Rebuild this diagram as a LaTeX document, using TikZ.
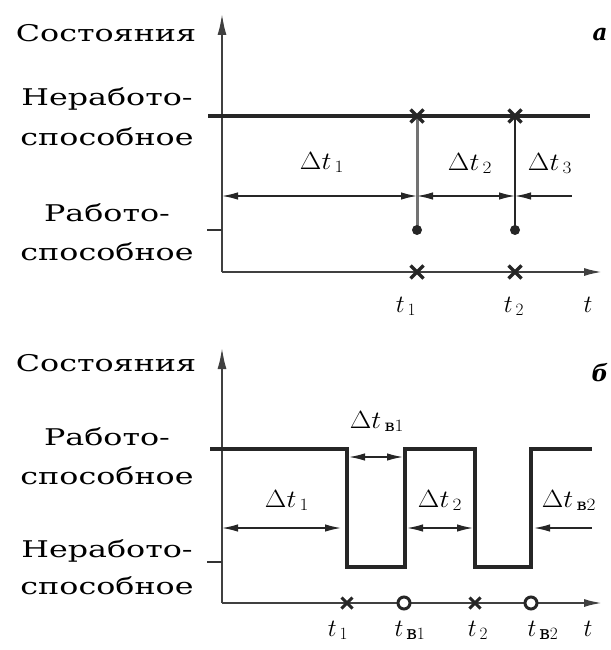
\documentclass[tikz,border=0pt]{standalone}
\usepackage{amsmath}
\usepackage[no-math]{fontspec}
\setmainfont{DejaVu Serif}
\usetikzlibrary{arrows.meta}
\newcommand\widetxt[1]{\scalebox{1.38}[1]{#1}}
\newcommand\widemath[1]{\scalebox{1.12}[1]{#1}}
\begin{document}
\begin{tikzpicture}[x=1pt,y=-1pt,
  txt/.style={font=\fontsize{23}{26}\selectfont, inner sep=0pt, anchor=base},
  mth/.style={font=\fontsize{23}{25}\selectfont, inner sep=0pt, anchor=base},
  tlab/.style={font=\fontsize{27}{29}\selectfont, inner sep=0pt, anchor=base},
  panel/.style={font=\fontsize{23}{25}\selectfont\bfseries\itshape, inner sep=0pt},
  axisline/.style={line width=2.5pt, draw=black!75},
  yarrow/.style={-{Latex[length=22pt,width=9pt]}},
  tarrow/.style={-{Latex[length=19pt,width=8pt]}},
  stateline/.style={line width=4pt, draw=black!85},
  signal/.style={line width=3.5pt, draw=black!85, line join=miter},
  tickline/.style={line width=2pt, draw=black!80},
  dimline/.style={line width=1.4pt, draw=black!85},
  dimarr/.style={{Latex[length=16pt,width=7.5pt]}-{Latex[length=16pt,width=7.5pt]}},
  dimleft/.style={{Latex[length=16pt,width=7.5pt]}-},
  crossline/.style={line width=3.5pt, draw=black!85},
  ringmark/.style={line width=3pt, draw=black!85, fill=white},
]
\useasboundingbox (0,0) rectangle (610,650);

% ===================== panel a =====================
\node[txt] (sa) at (106,42) {\widetxt{Состояния}};
\node[panel] (pa) at (600,35) {а};
\node[txt] (na1) at (107,106) {\widetxt{Неработо-}};
\node[txt] (na2) at (107,145) {\widetxt{способное}};
\node[txt] (ra1) at (107,221) {\widetxt{Работо-}};
\node[txt] (ra2) at (107,260) {\widetxt{способное}};

\coordinate (oa) at (222,272);
\coordinate (ya) at (222,13);
\coordinate (ta) at (603,272);
\draw[axisline,yarrow] (oa) -- (ya);
\draw[axisline,tarrow] (oa) -- (ta);

\coordinate (ua0) at (208,116);
\coordinate (ua1) at (590,116);
\draw[stateline] (ua0) -- (ua1);
\coordinate (la0) at (207,230);
\coordinate (la1) at (222,230);
\draw[tickline] (la0) -- (la1);

\coordinate (f1top) at (417,116);
\coordinate (f1dot) at (417,230);
\coordinate (f2top) at (515,116);
\coordinate (f2dot) at (515,230);
\draw[line width=3pt, draw=black!55] (f1top) -- (f1dot);
\draw[line width=1.6pt, draw=black!85] (f2top) -- (f2dot);
\fill[black!85] (f1dot) circle (5);
\fill[black!85] (f2dot) circle (5);

\coordinate (t1a) at (417,272);
\coordinate (t2a) at (515,272);
\foreach \c in {f1top,f2top,t1a,t2a}
  \draw[crossline, shift={(\c)}] (-6.5,-6.5) -- (6.5,6.5) (-6.5,6.5) -- (6.5,-6.5);

\coordinate (d0) at (222,196);
\coordinate (d1) at (417,196);
\coordinate (d2) at (515,196);
\coordinate (d3) at (572,196);
\draw[dimline,dimarr] (d0) -- (d1);
\draw[dimline,dimarr] (d1) -- (d2);
\draw[dimline,dimleft] (d2) -- (d3);

\node[mth] (dta1) at (322,169) {\widemath{$\Delta t_{\,1}$}};
\node[mth] (dta2) at (470,170) {\widemath{$\Delta t_{\,2}$}};
\node[mth] (dta3) at (550,170) {\widemath{$\Delta t_{\,3}$}};

\node[tlab] (lt1a) at (406,312) {$t_{\,1}$};
\node[tlab] (lt2a) at (514,312) {$t_{\,2}$};
\node[tlab] (lta) at (588,312) {$t$};

% ===================== panel b =====================
\node[txt] (sb) at (106,371) {\widetxt{Состояния}};
\node[panel] (pb) at (600,373) {б};
\node[txt] (rb1) at (107,445) {\widetxt{Работо-}};
\node[txt] (rb2) at (107,484) {\widetxt{способное}};
\node[txt] (nb1) at (107,557) {\widetxt{Неработо-}};
\node[txt] (nb2) at (107,594) {\widetxt{способное}};

\coordinate (ob) at (222,603);
\coordinate (yb) at (222,347);
\coordinate (tb) at (603,603);
\draw[axisline,yarrow] (ob) -- (yb);
\draw[axisline,tarrow] (ob) -- (tb);

\coordinate (s0) at (210,449);
\coordinate (s1) at (347,449);
\coordinate (s2) at (347,567);
\coordinate (s3) at (405,567);
\coordinate (s4) at (405,449);
\coordinate (s5) at (475,449);
\coordinate (s6) at (475,567);
\coordinate (s7) at (531,567);
\coordinate (s8) at (531,449);
\coordinate (s9) at (592,449);
\draw[signal] (s0) -- (s1) -- (s2) -- (s3) -- (s4) -- (s5) -- (s6) -- (s7) -- (s8) -- (s9);

\coordinate (lb0) at (207,562);
\coordinate (lb1) at (222,562);
\draw[tickline] (lb0) -- (lb1);

\coordinate (e0) at (349,457);
\coordinate (e1) at (403,457);
\draw[dimline,dimarr] (e0) -- (e1);
\coordinate (g0) at (222,528);
\coordinate (g1) at (341,528);
\coordinate (g2) at (407,528);
\coordinate (g3) at (473,528);
\coordinate (g4) at (534,528);
\coordinate (g5) at (592,528);
\draw[dimline,dimarr] (g0) -- (g1);
\draw[dimline,dimarr] (g2) -- (g3);
\draw[dimline,dimleft] (g4) -- (g5);

\node[mth] (dtb0) at (377,428) {\widemath{$\Delta t_{\,\text{в}1}$}};
\node[mth] (dtb1) at (287,507) {\widemath{$\Delta t_{\,1}$}};
\node[mth] (dtb2) at (440,507) {\widemath{$\Delta t_{\,2}$}};
\node[mth] (dtb3) at (569,507) {\widemath{$\Delta t_{\,\text{в}2}$}};

\coordinate (m1) at (347,603);
\coordinate (m2) at (404,603);
\coordinate (m3) at (475,603);
\coordinate (m4) at (531,603);
\foreach \c in {m1,m3}
  \draw[crossline, line width=3pt, shift={(\c)}] (-5.5,-5.5) -- (5.5,5.5) (-5.5,5.5) -- (5.5,-5.5);
\foreach \c in {m2,m4}
  \draw[ringmark] (\c) circle (6);

\node[tlab] (lt1b) at (338,636) {$t_{\,1}$};
\node[tlab] (ltv1) at (410,636) {$t_{\,\text{в}1}$};
\node[tlab] (lt2b) at (478,636) {$t_{\,2}$};
\node[tlab] (ltv2) at (543,636) {$t_{\,\text{в}2}$};
\node[tlab] (ltb) at (588,636) {$t$};
\end{tikzpicture}
\end{document}
